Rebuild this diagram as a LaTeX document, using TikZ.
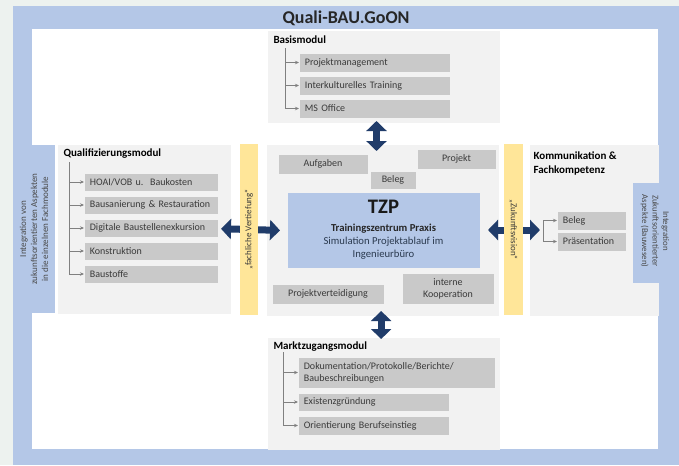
\documentclass[tikz,border=0pt]{standalone}
\usepackage{fontspec}
\setmainfont{Carlito}
\usetikzlibrary{arrows.meta}
\hyphenpenalty=10000

\definecolor{bgpale}{HTML}{EDF2EF}
\definecolor{frameblue}{HTML}{B4C7E7}
\definecolor{modgray}{HTML}{F2F2F2}
\definecolor{itemgray}{HTML}{C9C9C9}
\definecolor{itemtext}{HTML}{3A3A3A}
\definecolor{vertyellow}{HTML}{FFE699}
\definecolor{arrowblue}{HTML}{203C6A}
\definecolor{treegray}{HTML}{808080}
\definecolor{labeltext}{HTML}{4A4A4A}
\definecolor{simtext}{HTML}{2B3A4F}

\tikzset{every picture/.style={line width=0.75pt}}
\tikzset{
  sz/.style 2 args={minimum width=#1*0.75pt, minimum height=#2*0.75pt},
  modbox/.style={fill=modgray, inner sep=0pt, anchor=north west},
  head/.style={font=\bfseries\fontsize{8.25}{10.5}\selectfont, inner sep=0pt, align=left},
  item/.style 2 args={fill=itemgray, text=itemtext,
    font=\fontsize{7.5}{9}\selectfont,
    anchor=north west, inner xsep=4pt, inner ysep=0pt, align=left,
    text width=#1*0.75pt-8pt, minimum height=#2*0.75pt},
  citem/.style 2 args={item={#1}{#2}, align=center},
  treearrow/.style={draw=treegray, line width=0.6pt, -{Stealth[length=3pt,width=2.6pt]}},
  bigarrow/.style={draw=arrowblue, line width=5.25pt,
    {Triangle[width=15pt,length=7.5pt]}-{Triangle[width=15pt,length=7.5pt]}},
  vertbar/.style={fill=vertyellow, inner sep=0pt, text=itemtext,
    font=\fontsize{6.75}{8}\selectfont},
  sidelabel/.style={fill=frameblue, inner sep=0pt, text=labeltext, align=center,
    font=\fontsize{6.8}{8.2}\selectfont}
}

\begin{document}
\begin{tikzpicture}[x=0.75pt,y=0.75pt,yscale=-1,xscale=1]
%set diagram left start at 0, and has height of 465
\useasboundingbox (0,0) rectangle (679,465);
\fill[bgpale] (0,0) rectangle (679,465);

%Frame
\fill[frameblue] (13,6) rectangle (679,465);
\fill[white] (32,29) rectangle (658,449);
\node[font=\bfseries\fontsize{13.5}{16}\selectfont, text=black!85] (title) at (346,18) {Quali-BAU.GoON};

%Basismodul
\node[modbox, sz={232}{92}] (basis) at (267,30) {};
\node[head, anchor=west] (basishead) at (273,40) {Basismodul};
\node[item={150}{18}] (pm) at (299,53) {Projektmanagement};
\node[item={150}{18}] (ikt) at (299,76) {Interkulturelles Training};
\node[item={150}{18}] (mso) at (299,99) {MS Office};
\coordinate (basistree) at (285,48);
\foreach \n in {pm,ikt,mso}
  \draw[treearrow] (basistree) |- (\n.west);

%Qualifizierungsmodul
\node[modbox, sz={173}{169}] (quali) at (57,144) {};
\node[head, anchor=west] (qualihead) at (63,154) {Qualifizierungsmodul};
\node[item={133}{17}] (hoai) at (84,173) {HOAI/VOB u.\ \ Baukosten};
\node[item={133}{17}] (bausan) at (84,196) {Bausanierung \& Restauration};
\node[item={133}{17}] (digi) at (84,219) {Digitale Baustellenexkursion};
\node[item={133}{17}] (konst) at (84,242) {Konstruktion};
\node[item={133}{17}] (baust) at (84,265) {Baustoffe};
\coordinate (qualitree) at (69,162);
\foreach \n in {hoai,bausan,digi,konst,baust}
  \draw[treearrow] (qualitree) |- (\n.west);

%Integration links
\node[sidelabel, rotate=90, sz={168}{42}] (intleft) at (34,229)
  {Integration von\\zukunftsorientierten Aspekten\\in die einzelnen Fachmodule};

%Trainingszentrum
\node[modbox, sz={232}{171}] (praxis) at (266,144) {};
\node[citem={89}{19}] (aufg) at (278,154) {Aufgaben};
\node[citem={78}{19}] (projekt) at (417,149) {Projekt};
\node[citem={45}{17}] (beleg) at (370,171) {Beleg};
\node[fill=frameblue, inner sep=0pt, anchor=north west, sz={192}{75}, align=center,
  font=\fontsize{8}{9.75}\selectfont, text=simtext] (tzp) at (287,192)
  {{\fontsize{15.5}{16}\selectfont\bfseries\color{black!90}TZP}\\[3.75pt]
   {\bfseries\color{black!85}Trainingszentrum Praxis}\\
   Simulation Projektablauf im\\
   Ingenieurbüro};
\node[citem={111}{19}] (verteid) at (272,284) {Projektverteidigung};
\node[citem={91}{30}] (koop) at (402,273) {interne\\Kooperation};

%Kommunikation
\node[modbox, sz={129}{171}] (komm) at (529,144) {};
\node[head, anchor=north west] (kommhead) at (533,151) {Kommunikation \&\\Fachkompetenz};
\node[item={68}{18}] (kbeleg) at (557,211) {Beleg};
\node[item={68}{18}] (praes) at (557,232) {Präsentation};
\coordinate (kommtree) at (543,230);
\foreach \n in {kbeleg,praes}
  \draw[treearrow] (kommtree) |- (\n.west);

%Integration rechts
\node[fill=frameblue, inner sep=0pt, anchor=north west, sz={26}{100}] (intright) at (632,182) {};
\node[rotate=-90, inner sep=0pt, align=center, text=labeltext,
  font=\fontsize{6.6}{7.9}\selectfont] (intrighttext) at (655,231)
  {Integration\\Zukunftsorientierter\\Aspekte (Bauwesen)};

%Marktzugangsmodul
\node[modbox, sz={232}{112}] (markt) at (267,337) {};
\node[head, anchor=west] (markthead) at (273,347) {Marktzugangsmodul};
\node[item={196}{30}] (doku) at (298,357) {Dokumentation/Protokolle/Berichte/\\Baubeschreibungen};
\node[item={150}{17}] (exist) at (298,393) {Existenzgründung};
\node[item={150}{18}] (orient) at (298,416) {Orientierung Berufseinstieg};
\coordinate (markttree) at (283,352);
\foreach \n in {doku,exist,orient}
  \draw[treearrow] (markttree) |- (\n.west);

%Block arrows
\draw[bigarrow, shorten <=-1.5pt, shorten >=-5.25pt] ([xshift=-5.25pt]basis.south) -- ([xshift=-4.5pt]praxis.north);
\draw[bigarrow, shorten <=-3.75pt, shorten >=-1.5pt] ([xshift=-1pt]praxis.south) -- ([xshift=-1.75pt]markt.north);
\draw[bigarrow, shorten <=-7.5pt, shorten >=-10.5pt] (quali.east) -- (praxis.west);
\draw[bigarrow, shorten <=-8.25pt, shorten >=-8.25pt] (praxis.east) -- (komm.west);

%Vertiefung und Vision
\node[vertbar, rotate=90, sz={171}{18}] (vertiefung) at (249,229.5) {„fachliche Vertiefung“};
\node[vertbar, rotate=-90, sz={171}{19}] (vision) at (513.5,229.5) {„Zukunftsvision“};

\end{tikzpicture}
\end{document}
